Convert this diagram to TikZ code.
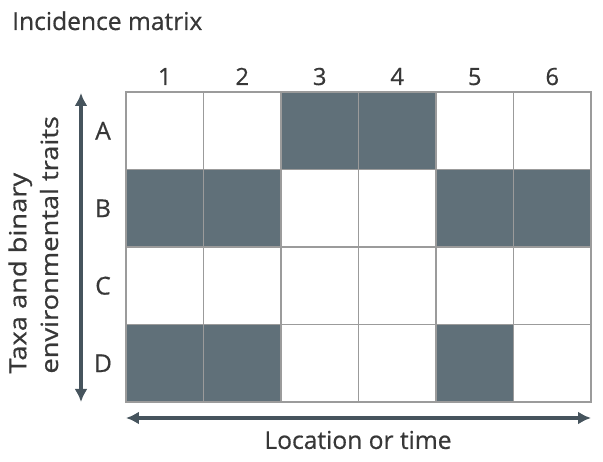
\documentclass[tikz,border=0pt]{standalone}
\usepackage{fontspec}
\setmainfont{Open Sans}[UprightFeatures={FakeBold=0.6}]
\usepackage{tikz}
\usetikzlibrary{arrows.meta}

\definecolor{slate}{RGB}{96,112,121}
\definecolor{axisgray}{RGB}{70,84,93}
\definecolor{gridgray}{RGB}{155,155,155}
\definecolor{textgray}{RGB}{55,55,55}
\colorlet{shade0}{white}
\colorlet{shade1}{slate}

\begin{document}
\begin{tikzpicture}[x=0.02cm, y=-0.02cm, textgray,
  cell/.style={draw=gridgray, line width=1pt, minimum size=1.55cm, inner sep=0pt, outer sep=0pt},
  rowlab/.style={font=\fontsize{14}{16}\selectfont},
  collab/.style={font=\fontsize{13.5}{16}\selectfont, anchor=base},
  axisarrow/.style={axisgray, line width=2pt, {Latex[length=0.26cm, width=0.26cm]}-{Latex[length=0.26cm, width=0.26cm]}}]
  \useasboundingbox (0,0) rectangle (603,462);

  \node[anchor=base west, font=\fontsize{14}{16}\selectfont] (title) at (6,30) {Incidence matrix};

  % rows A-D, 1 = present
  \foreach \l/\pat [count=\r] in {A/{0,0,1,1,0,0}, B/{1,1,0,0,1,1}, C/{0,0,0,0,0,0}, D/{1,1,0,0,1,0}} {
    \node[rowlab] (row\l) at (103, 53.25+77.5*\r) {\l};
    \foreach \v [count=\c] in \pat
      \node[cell, fill=shade\v] (\l\c) at (87.25+77.5*\c, 53.25+77.5*\r) {};
  }
  \foreach \c in {1,...,6}
    \node[collab] (col\c) at (87.25+77.5*\c, 85) {\c};

  \coordinate (vtop) at (81,93);
  \coordinate (vbot) at (81,402);
  \coordinate (hleft) at (126,418);
  \coordinate (hright) at (591,418);
  \draw[axisarrow] (vtop) -- (vbot);
  \draw[axisarrow] (hleft) -- (hright);

  \node[rotate=90, xscale=1.15, anchor=north west, align=left, inner sep=0pt,
    font=\fontsize{13.5}{18}\selectfont] (sidelab) at (8,374) {Taxa and binary\\environmental traits};
  \node[font=\fontsize{14}{16}\selectfont] (botlab) at (358,440) {Location or time};
\end{tikzpicture}
\end{document}
